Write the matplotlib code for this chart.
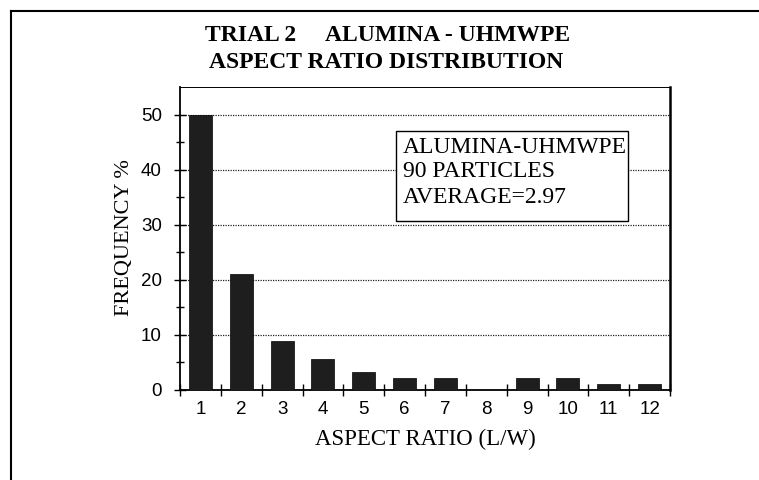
import numpy as np
import matplotlib
matplotlib.use("Agg")
import matplotlib.pyplot as plt
from matplotlib.lines import Line2D
from matplotlib.patches import Rectangle

# aspect ratio classes and frequency (%) of 90 particles
ratio = np.arange(1, 13)
freq = [50.0, 21.1, 8.9, 5.6, 3.3, 2.2, 2.2, 0.0, 2.2, 2.2, 1.1, 1.1]
title1a = 'TRIAL 2'
title1b = 'ALUMINA - UHMWPE'
title2 = 'ASPECT RATIO DISTRIBUTION'
box_lines = ['ALUMINA-UHMWPE', '90 PARTICLES', 'AVERAGE=2.97']

serif = 'Liberation Serif'
sans = 'Liberation Sans'

W, H = 759, 480
fig = plt.figure(figsize=(W/100, H/100), dpi=100)
fig.patch.set_facecolor('white')

# axes box in pixels: left 180, right 670, top 87, bottom 390
ax = fig.add_axes([180/W, 1-390/H, (670-180)/W, (390-87)/H])

ax.bar(ratio, freq, width=0.56, color='#1e1e1e', edgecolor='black', linewidth=0.5, zorder=3)

ax.set_xlim(0.5, 12.5)
ax.set_ylim(0, 55)

ax.set_yticks(np.arange(0, 51, 10))
ax.set_yticks(np.arange(5, 51, 10), minor=True)
ax.set_xticks(ratio)
ax.set_xticks(np.arange(0.5, 12.6, 1), minor=True)

for g in range(10, 51, 10):
    ax.axhline(g, color='#222222', linestyle=(0, (1, 1)), linewidth=0.9, zorder=1)

ax.tick_params(axis='x', which='major', length=0, pad=8, labelsize=13.5)
ax.tick_params(axis='x', which='minor', direction='inout', length=9, width=1)
ax.tick_params(axis='y', which='major', direction='inout', length=8, width=1, pad=9, labelsize=13.5)
ax.tick_params(axis='y', which='minor', direction='inout', length=6, width=1)
for lab in ax.get_xticklabels() + ax.get_yticklabels():
    lab.set_fontfamily(sans)

for s in ['left', 'bottom']:
    ax.spines[s].set_linewidth(1.3)
ax.spines['top'].set_linewidth(0.7)
ax.spines['right'].set_linewidth(1.8)

# info box
ax.add_patch(Rectangle((0.441, 0.558), 0.914-0.441, 0.855-0.558, transform=ax.transAxes,
                       facecolor='white', edgecolor='black', linewidth=1.0, zorder=4))
for txt, yb in zip(box_lines, [0.782, 0.703, 0.617]):
    ax.text(0.455, yb, txt, transform=ax.transAxes, fontsize=17, family=serif,
            va='baseline', ha='left', zorder=5)

# titles and axis labels
tkw = dict(fontsize=17, fontweight='bold', family=serif, va='baseline', ha='left')
fig.text(205/W, 1-41/H, title1a, **tkw)
fig.text(325/W, 1-41/H, title1b, **tkw)
fig.text(209/W, 1-68/H, title2, **tkw)
fig.text(124/W, 1-238/H, 'FREQUENCY %', fontsize=16, family=serif, rotation=90, ha='center', va='center')
fig.text(425/W, 1-445/H, 'ASPECT RATIO (L/W)', fontsize=16.5, family=serif, ha='center', va='baseline')

# outer frame (left and top edges only)
fig.add_artist(Line2D([11/W, 11/W], [0, 1-11/H], transform=fig.transFigure, color='black', linewidth=1.5))
fig.add_artist(Line2D([11/W, 1], [1-11/H, 1-11/H], transform=fig.transFigure, color='black', linewidth=1.5))

fig.savefig('out.png', dpi=100)
